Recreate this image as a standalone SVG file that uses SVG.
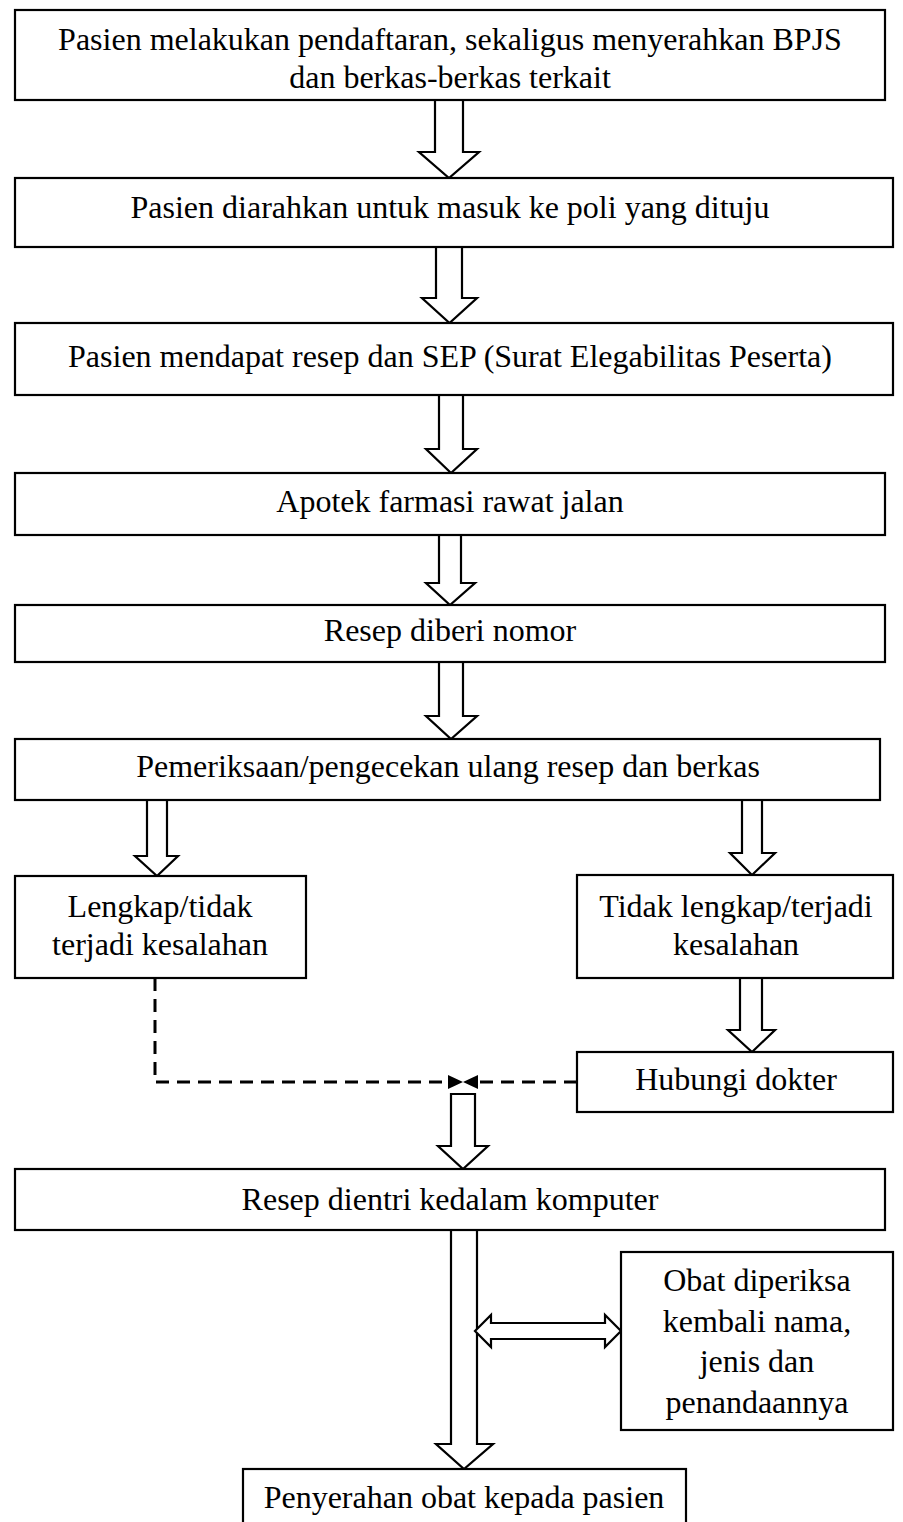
<svg xmlns="http://www.w3.org/2000/svg" width="903" height="1522" viewBox="0 0 903 1522">
<style>
.box{fill:#fff;stroke:#000;stroke-width:2.2}
.arr{fill:#fff;stroke:#000;stroke-width:2.2;stroke-linejoin:miter}
.t{font-family:"Liberation Serif","Times New Roman",serif;font-size:32px;fill:#000;text-anchor:middle}
.dash{fill:none;stroke:#000;stroke-width:3;stroke-dasharray:13 8}
</style>
<defs>
<marker id="ah" viewBox="0 0 10 10" refX="10" refY="5" markerWidth="5" markerHeight="5" orient="auto" markerUnits="strokeWidth">
<path d="M0,0 L10,5 L0,10 z" fill="#000"/>
</marker>
</defs>
<rect width="903" height="1522" fill="#fff"/>
<g id="connectors">
<polygon class="arr" points="435,100 463,100 463,152 479,152 449,178 419,152 435,152"/>
<polygon class="arr" points="436,247 462,247 462,298 477,298 449.5,323 422,298 436,298"/>
<polygon class="arr" points="439,395 463,395 463,449 477,449 451,473 426,449 439,449"/>
<polygon class="arr" points="439,535 461,535 461,583 475,583 450,605 426,583 439,583"/>
<polygon class="arr" points="439,662 463,662 463,716 477,716 451,739 426,716 439,716"/>
<polygon class="arr" points="147,800 167,800 167,856 178,856 157,876 135,856 147,856"/>
<polygon class="arr" points="742,800 762,800 762,853 775,853 752,875 730,853 742,853"/>
<polygon class="arr" points="740,978 762,978 762,1030 775,1030 752,1052 728,1030 740,1030"/>
<polygon class="arr" points="451,1094 475,1094 475,1146 488,1146 463,1169 438,1146 451,1146"/>
<polygon class="arr" points="451,1230 477,1230 477,1444 493,1444 464,1469 436,1444 451,1444"/>
<polygon class="arr" points="475,1331 491,1315 491,1323 605,1323 605,1315 621,1331 605,1347 605,1339 491,1339 491,1347"/>
<path class="dash" d="M155,978 V1082 H448"/>
<polygon points="448,1075 463,1082 448,1089" fill="#000"/>
<path class="dash" d="M577,1082 H478"/>
<polygon points="478,1075 463,1082 478,1089" fill="#000"/>
</g>
<g id="n1"><rect class="box" x="15" y="10" width="870" height="90"/>
<text class="t" x="450" y="50">Pasien melakukan pendaftaran, sekaligus menyerahkan BPJS</text>
<text class="t" x="450" y="88">dan berkas-berkas terkait</text></g>
<g id="n2"><rect class="box" x="15" y="178" width="878" height="69"/>
<text class="t" x="450" y="218">Pasien diarahkan untuk masuk ke poli yang dituju</text></g>
<g id="n3"><rect class="box" x="15" y="323" width="878" height="72"/>
<text class="t" x="450" y="367">Pasien mendapat resep dan SEP (Surat Elegabilitas Peserta)</text></g>
<g id="n4"><rect class="box" x="15" y="473" width="870" height="62"/>
<text class="t" x="450" y="512">Apotek farmasi rawat jalan</text></g>
<g id="n5"><rect class="box" x="15" y="605" width="870" height="57"/>
<text class="t" x="450" y="641">Resep diberi nomor</text></g>
<g id="n6"><rect class="box" x="15" y="739" width="865" height="61"/>
<text class="t" x="448" y="777">Pemeriksaan/pengecekan ulang resep dan berkas</text></g>
<g id="n7"><rect class="box" x="15" y="876" width="291" height="102"/>
<text class="t" x="160" y="917">Lengkap/tidak</text>
<text class="t" x="160" y="955">terjadi kesalahan</text></g>
<g id="n8"><rect class="box" x="577" y="875" width="316" height="103"/>
<text class="t" x="736" y="917">Tidak lengkap/terjadi</text>
<text class="t" x="736" y="955">kesalahan</text></g>
<g id="n9"><rect class="box" x="577" y="1052" width="316" height="60"/>
<text class="t" x="736" y="1090">Hubungi dokter</text></g>
<g id="n10"><rect class="box" x="15" y="1169" width="870" height="61"/>
<text class="t" x="450" y="1210">Resep dientri kedalam komputer</text></g>
<g id="n11"><rect class="box" x="621" y="1252" width="272" height="178"/>
<text class="t" x="757" y="1291">Obat diperiksa</text>
<text class="t" x="757" y="1332">kembali nama,</text>
<text class="t" x="757" y="1372">jenis dan</text>
<text class="t" x="757" y="1413">penandaannya</text></g>
<g id="n12"><rect class="box" x="243" y="1469" width="443" height="70"/>
<text class="t" x="464" y="1508">Penyerahan obat kepada pasien</text></g>
</svg>
